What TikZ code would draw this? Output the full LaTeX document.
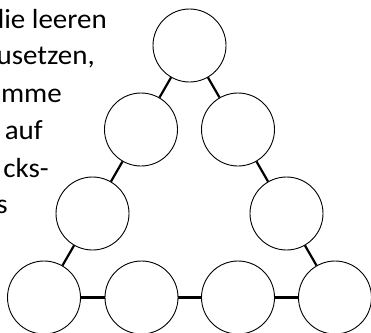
\documentclass[tikz,border=0pt]{standalone}
\usepackage{fontspec}
\newfontfamily\labfont[FakeStretch=1.05]{Carlito}
\begin{document}
\begin{tikzpicture}[x=1pt,y=-1pt,
  ring/.style={circle,draw,line width=0.9pt,minimum size=73pt,inner sep=0pt},
  link/.style={line width=2.2pt},
  txt/.style={anchor=base east,inner sep=0pt,font=\labfont\fontsize{27.6}{33}\selectfont}]
\useasboundingbox (0,0) rectangle (371,332);
% text lines (cut at the left edge)
\node[txt] (t1) at (107,28) {die leeren};
\node[txt] (t2) at (95,64.5) {usetzen,};
\node[txt] (t3) at (62,102) {mme};
\node[txt] (t4) at (43,139.5) {auf};
\node[txt] (t5) at (49,177) {cks-};
\node[txt] (t6) at (8,213.5) {s};
% circles
\node[ring] (a) at (189.5,45.5) {};
\node[ring] (b1) at (141,129.5) {};
\node[ring] (b2) at (238,129.5) {};
\node[ring] (c1) at (92.5,213.5) {};
\node[ring] (c2) at (286.5,213.5) {};
\node[ring] (d1) at (44,297.5) {};
\node[ring] (d2) at (141.5,297.5) {};
\node[ring] (d3) at (238,297.5) {};
\node[ring] (d4) at (335,297.5) {};
% connectors
\draw[link] (a) -- (b1);
\draw[link] (b1) -- (c1);
\draw[link] (c1) -- (d1);
\draw[link] (a) -- (b2);
\draw[link] (b2) -- (c2);
\draw[link] (c2) -- (d4);
\draw[link] (d1) -- (d2);
\draw[link] (d2) -- (d3);
\draw[link] (d3) -- (d4);
\end{tikzpicture}
\end{document}
